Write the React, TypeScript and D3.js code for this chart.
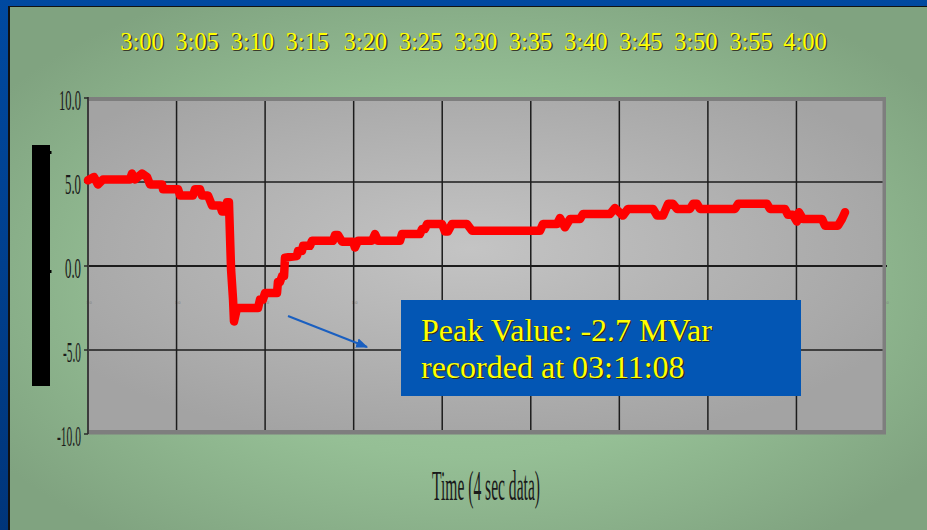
import React from "react";
import * as d3 from "d3";

// ---- data (minutes after 3:00, MVar) ----
const sampleMinutes = [
  0.0, 0.45, 0.75, 1.13, 3.16, 3.31, 3.54, 4.07, 4.44, 4.67, 5.57, 5.65, 6.78, 6.93,
  7.9, 8.06, 8.43, 8.58, 9.03, 9.34, 9.94, 10.09, 10.31, 10.46, 10.61, 10.77, 10.92,
  10.99, 11.22, 12.8, 12.95, 13.17, 13.33, 14.23, 14.3, 14.45, 14.61, 14.76, 14.83,
  15.73, 15.81, 16.11, 16.19, 16.71, 16.86, 18.44, 18.6, 18.82, 19.12, 19.95, 20.1,
  20.33, 21.38, 21.61, 21.83, 23.49, 23.64, 24.99, 25.14, 25.37, 25.52, 26.65, 26.88,
  27.1, 27.4, 28.53, 28.91, 34.03, 34.25, 35.31, 35.53, 35.91, 36.29, 37.04, 37.27,
  39.3, 39.67, 40.27, 40.65, 42.54, 42.84, 43.29, 43.67, 44.04, 44.34, 45.32, 45.55,
  45.85, 46.07, 48.71, 48.94, 51.12, 51.34, 52.47, 52.69, 53.07, 53.37, 53.52, 53.82,
  55.26, 55.48, 56.46, 56.76, 56.99,
];
const sampleMVar = [
  5.1, 5.3, 4.85, 5.15, 5.15, 5.5, 5.15, 5.5, 5.3, 4.85, 4.85, 4.57, 4.57, 4.2,
  4.2, 4.57, 4.57, 4.2, 4.2, 3.6, 3.6, 3.25, 3.25, 3.8, 3.8, -0.2, -2.0,
  -3.3, -2.5, -2.5, -2.0, -2.0, -1.6, -1.6, -0.95, -0.95, -0.6, -0.6, 0.5,
  0.6, 0.9, 0.9, 1.2, 1.2, 1.5, 1.5, 1.85, 1.85, 1.45, 1.45, 1.1,
  1.5, 1.5, 1.9, 1.5, 1.5, 1.9, 1.9, 2.2, 2.2, 2.5, 2.5, 2.05,
  2.05, 2.5, 2.5, 2.1, 2.1, 2.5, 2.5, 2.85, 2.3, 2.8, 2.8, 3.1,
  3.1, 3.45, 3.0, 3.4, 3.4, 3.0, 3.0, 3.7, 3.7, 3.4, 3.4, 3.7,
  3.7, 3.4, 3.4, 3.7, 3.7, 3.4, 3.4, 3.05, 3.05, 2.65, 3.2, 2.8,
  2.8, 2.4, 2.4, 2.8, 3.2,
];
const topTimeLabels = ["3:00", "3:05", "3:10", "3:15", "3:20", "3:25", "3:30", "3:35", "3:40", "3:45", "3:50", "3:55", "4:00"];
const yTickValues = [10, 5, 0, -5, -10];
const yTickLabels = ["10.0", "5.0", "0.0", "-5.0", "-10.0"];
const yGridValues = [5, 0, -5];
const xDomain = [0, 60];
const xGridCount = 9;
const annotationLines = ["Peak Value: -2.7 MVar", "recorded at 03:11:08"];
const xTitle = "Time (4 sec data)";

const W = 927;
const H = 530;
const PL = 88, PR = 885, PT = 97, PB = 434;
const serif = "'Liberation Serif', 'Times New Roman', serif";

export default function App() {
  const x = d3.scaleLinear().domain(xDomain).range([PL, PR]);
  const y = d3.scaleLinear().domain([-10, 10]).range([434, 98]);
  const topX = d3.scalePoint<string>().domain(topTimeLabels).range([142, 803]);
  const data = sampleMinutes.map((t, i) => ({ t, v: sampleMVar[i] }));
  const line = d3
    .line<{ t: number; v: number }>()
    .x((d) => x(d.t))
    .y((d) => y(d.v));
  const gridX = d3.range(0, xGridCount + 1).map((i) => (i * (xDomain[1] - xDomain[0])) / xGridCount);
  const labelWidths: Record<string, number> = { "10.0": 22, "5.0": 16, "0.0": 16, "-5.0": 18, "-10.0": 24 };

  return (
    <svg
      width={W}
      height={H}
      style={{ position: "absolute", left: 0, top: 0, display: "block" }}
      xmlns="http://www.w3.org/2000/svg"
    >
      <defs>
        <linearGradient id="blueBg" x1="0" y1="0" x2="0" y2="1">
          <stop offset="0" stopColor="#0049a0" />
          <stop offset="1" stopColor="#00357a" />
        </linearGradient>
        <radialGradient id="greenBg" cx="0.5" cy="0.52" r="0.62">
          <stop offset="0" stopColor="#a3cea3" />
          <stop offset="0.55" stopColor="#95bf95" />
          <stop offset="1" stopColor="#80a380" />
        </radialGradient>
        <radialGradient id="plotBg" cx="0.48" cy="0.45" r="0.6">
          <stop offset="0" stopColor="#c4c4c4" />
          <stop offset="1" stopColor="#a3a3a3" />
        </radialGradient>
        <marker id="arrowHead" viewBox="0 0 10 10" refX="9" refY="5" markerWidth="6" markerHeight="6" orient="auto">
          <path d="M0,1 L10,5 L0,9 z" fill="#1a5fc0" />
        </marker>
      </defs>

      {/* backgrounds */}
      <rect x={0} y={0} width={W} height={H} fill="url(#blueBg)" />
      <rect x={8} y={6} width={W - 8} height={H - 6} fill="#111" />
      <rect x={10} y={7} width={W - 10} height={H - 7} fill="url(#greenBg)" />

      {/* top time labels */}
      {topTimeLabels.map((s, i) => {
        const cx = (topX(s) as number) + (i >= 4 ? 3 : 0) - (i >= 12 ? 1 : 0);
        return (
          <g key={s} fontFamily={serif} fontSize={24.5} textAnchor="middle">
            <text x={cx + 1.3} y={51.3} fill="#3a3a2a">{s}</text>
            <text x={cx} y={50} fill="#ffff00">{s}</text>
          </g>
        );
      })}

      {/* redacted axis title block */}
      <rect x={32} y={145} width={18} height={241} fill="#000" />
      <rect x={49} y={151} width={2.5} height={3} fill="#000" />
      <rect x={49} y={270} width={2.5} height={3} fill="#000" />

      {/* plot area */}
      <rect x={PL} y={PT} width={PR - PL} height={PB - PT} fill="url(#plotBg)" />

      {/* tiny category labels */}
      {gridX.map((g, i) => (
        <text key={"tl" + i} x={x(g) + 1} y={304} fontSize={4.5} fill="#808080" textAnchor="middle" fontFamily={serif}>
          1:0
        </text>
      ))}

      {/* vertical grid */}
      {gridX.slice(1, -1).map((g, i) => (
        <line key={"vg" + i} x1={x(g)} x2={x(g)} y1={PT + 4} y2={PB - 4} stroke="#1c1c1c" strokeWidth={1.5} />
      ))}
      {/* horizontal grid */}
      {yGridValues.map((v) => (
        <line key={"hg" + v} x1={PL} x2={v === 0 ? PR + 2 : PR} y1={y(v)} y2={y(v)} stroke="#1c1c1c" strokeWidth={v === 0 ? 1.8 : 1.5} />
      ))}

      {/* frame bands */}
      <rect x={PL} y={PT} width={PR - PL + 1} height={4} fill="#7e7e7e" />
      <rect x={PL} y={PB - 4} width={PR - PL + 1} height={4.5} fill="#7e7e7e" />
      <rect x={PR - 2.5} y={PT} width={3.5} height={PB - PT} fill="#7e7e7e" />
      <rect x={PL - 1} y={PT} width={2} height={PB - PT} fill="#3c3c3c" />

      {/* y ticks and labels */}
      {yTickValues.map((v, i) => (
        <g key={"yt" + v}>
          <line x1={PL - 4} x2={PL} y1={y(v)} y2={y(v)} stroke="#2a2a2a" strokeWidth={1.5} />
          <text
            x={81 - labelWidths[yTickLabels[i]]}
            y={y(v) + 12}
            fontFamily={serif}
            fontSize={30}
            fill="#1a1a1a"
            textLength={labelWidths[yTickLabels[i]]}
            lengthAdjust="spacingAndGlyphs"
          >
            {yTickLabels[i]}
          </text>
        </g>
      ))}

      {/* data line */}
      <path d={line(data) || ""} fill="none" stroke="#ff0000" strokeWidth={8.5} strokeLinejoin="round" strokeLinecap="round" />

      {/* arrow */}
      <line x1={288} y1={316} x2={367} y2={347} stroke="#1a5fc0" strokeWidth={2} markerEnd="url(#arrowHead)" />

      {/* annotation box */}
      <rect x={401} y={300} width={400} height={96} fill="#0356b4" />
      {annotationLines.map((s, i) => (
        <g key={"an" + i} fontFamily={serif} fontSize={32}>
          <text x={422.3} y={342.3 + i * 37} fill="#2a2a20">{s}</text>
          <text x={421} y={341 + i * 37} fill="#ffff00">{s}</text>
        </g>
      ))}

      {/* x title */}
      <text x={432} y={500} fontFamily={serif} fontSize={42} fill="#1a1a1a" textLength={108} lengthAdjust="spacingAndGlyphs">
        {xTitle}
      </text>
    </svg>
  );
}
